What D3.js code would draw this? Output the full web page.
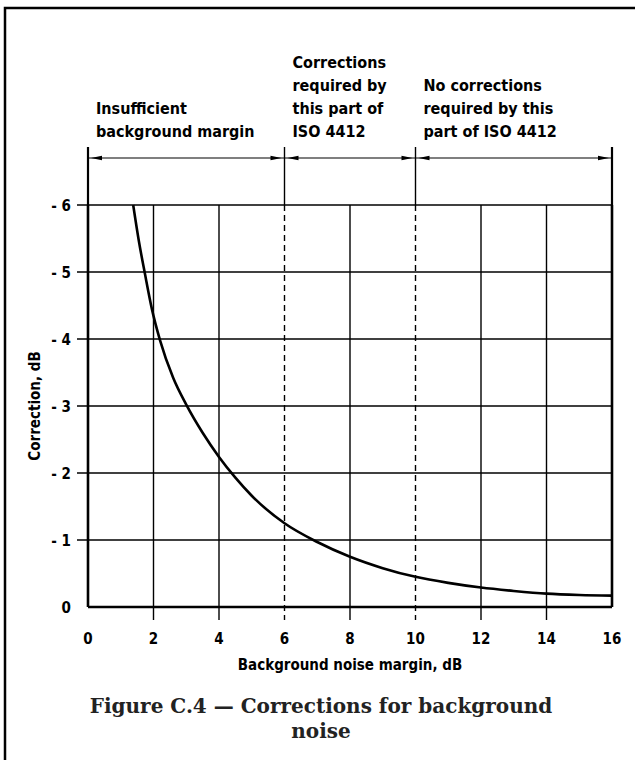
<!DOCTYPE html>
<html>
<head>
<meta charset="utf-8">
<script src="https://cdn.jsdelivr.net/npm/d3@7"></script>
<style>
  body { margin: 0; background: #fff; }
  svg { display: block; }
  .lbl { font-family: "DejaVu Sans Condensed", "DejaVu Sans", sans-serif; font-weight: bold; fill: #000; }
  .cap { font-family: "DejaVu Serif", serif; font-weight: bold; fill: #222; }
</style>
</head>
<body>
<div id="chart"></div>
<script>
// background noise margin (dB) and the correction (dB, shown as negative)
var margin = [1.38, 1.55, 1.74, 1.95, 2.2, 2.6, 3.0, 3.5, 4.0, 4.5, 5.0, 6.0, 7.0, 8.0, 9.0, 10.0, 11.0, 12.0, 13.0, 14.0, 15.0, 16.0];
var correction = [6.0, 5.47, 4.97, 4.45, 3.98, 3.42, 3.02, 2.6, 2.24, 1.93, 1.66, 1.25, 0.97, 0.75, 0.58, 0.45, 0.36, 0.29, 0.24, 0.2, 0.18, 0.17];

var xTicks = [0, 2, 4, 6, 8, 10, 12, 14, 16];
var yTicks = [0, 1, 2, 3, 4, 5, 6];
var dashedX = [6, 10];
var boundsX = [0, 6, 10, 16];   // region limits, drawn up into the label band
var regionText = [
  ["Insufficient", "background margin"],
  ["Corrections", "required by", "this part of", "ISO 4412"],
  ["No corrections", "required by this", "part of ISO 4412"]
];
var captionLines = ["Figure C.4 \u2014 Corrections for background", "noise"];

var W = 635, H = 760;
var svg = d3.select("#chart").append("svg").attr("width", W).attr("height", H);

var x = d3.scaleLinear().domain([0, 16]).range([88, 612]);
var y = d3.scaleLinear().domain([0, 6]).range([607, 205]);

// frame round the figure (open at right and bottom)
svg.append("path")
  .attr("d", "M5,760 V8 H635")
  .attr("fill", "none").attr("stroke", "#000").attr("stroke-width", 2.5);

// horizontal grid with small ticks to the left
svg.selectAll(".hgrid").data(yTicks).enter().append("line")
  .attr("x1", function (d) { return d === 0 ? x(0) : x(0) - 11; })
  .attr("x2", x(16))
  .attr("y1", function (d) { return y(d); })
  .attr("y2", function (d) { return y(d); })
  .attr("stroke", "#000")
  .attr("stroke-width", function (d) { return d === 0 ? 2.6 : 1.4; });

// vertical grid, ticks below the axis
svg.selectAll(".vgrid").data(xTicks).enter().append("line")
  .attr("x1", function (d) { return x(d); })
  .attr("x2", function (d) { return x(d); })
  .attr("y1", y(6))
  .attr("y2", function (d) { return (d === 0 || d === 16) ? y(0) : y(0) + 13; })
  .attr("stroke", "#000")
  .attr("stroke-width", function (d) { return (d === 0 || d === 16) ? 2.6 : 1.4; })
  .attr("stroke-dasharray", function (d) { return dashedX.indexOf(d) >= 0 ? "6,4" : null; });

// region boundaries above the grid
svg.selectAll(".bound").data(boundsX).enter().append("line")
  .attr("x1", function (d) { return x(d); })
  .attr("x2", function (d) { return x(d); })
  .attr("y1", 147).attr("y2", y(6))
  .attr("stroke", "#000")
  .attr("stroke-width", function (d) { return (d === 0 || d === 16) ? 2.2 : 1.4; });

// dimension line with arrowheads
var arrowY = 158;
svg.append("line").attr("x1", x(0)).attr("x2", x(16))
  .attr("y1", arrowY).attr("y2", arrowY)
  .attr("stroke", "#000").attr("stroke-width", 1.1);

var heads = [];
for (var i = 0; i < boundsX.length - 1; i++) {
  heads.push({ at: boundsX[i], dir: -1 });
  heads.push({ at: boundsX[i + 1], dir: 1 });
}
svg.selectAll(".head").data(heads).enter().append("path")
  .attr("d", function (d) {
    var tip = x(d.at) - d.dir * 3;
    var base = tip - d.dir * 11;
    return "M" + tip + "," + arrowY + "L" + base + "," + (arrowY - 2.2) + "L" + base + "," + (arrowY + 2.2) + "Z";
  })
  .attr("fill", "#000");

// region labels
regionText.forEach(function (lines, k) {
  var last = 137, step = 23;
  var t = svg.append("text").attr("class", "lbl").attr("font-size", 16)
    .attr("x", x(boundsX[k]) + 8);
  lines.forEach(function (s, j) {
    t.append("tspan").attr("x", x(boundsX[k]) + 8)
      .attr("y", last - (lines.length - 1 - j) * step).text(s);
  });
});

// the curve
var pts = margin.map(function (m, i) { return [m, correction[i]]; });
svg.append("path").datum(pts)
  .attr("d", d3.line().x(function (d) { return x(d[0]); }).y(function (d) { return y(d[1]); }).curve(d3.curveMonotoneX))
  .attr("fill", "none").attr("stroke", "#000").attr("stroke-width", 2.6);

// tick labels
svg.selectAll(".xl").data(xTicks).enter().append("text")
  .attr("class", "lbl").attr("font-size", 15)
  .attr("x", function (d) { return x(d); }).attr("y", 644)
  .attr("text-anchor", "middle").text(function (d) { return d; });

svg.selectAll(".yl").data(yTicks).enter().append("text")
  .attr("class", "lbl").attr("font-size", 15)
  .attr("x", 71).attr("y", function (d) { return y(d) + 5.5; })
  .attr("text-anchor", "end")
  .text(function (d) { return d === 0 ? "0" : "- " + d; });

// axis titles
svg.append("text").attr("class", "lbl").attr("font-size", 15)
  .attr("x", (x(0) + x(16)) / 2).attr("y", 670).attr("text-anchor", "middle")
  .text("Background noise margin, dB");

svg.append("text").attr("class", "lbl").attr("font-size", 15)
  .attr("transform", "translate(40," + y(3) + ") rotate(-90)")
  .attr("text-anchor", "middle").text("Correction, dB");

// caption
svg.selectAll(".cap").data(captionLines).enter().append("text")
  .attr("class", "cap").attr("font-size", 20)
  .attr("x", 321).attr("y", function (d, i) { return 713 + i * 25; })
  .attr("text-anchor", "middle").text(function (d) { return d; });
</script>
</body>
</html>
